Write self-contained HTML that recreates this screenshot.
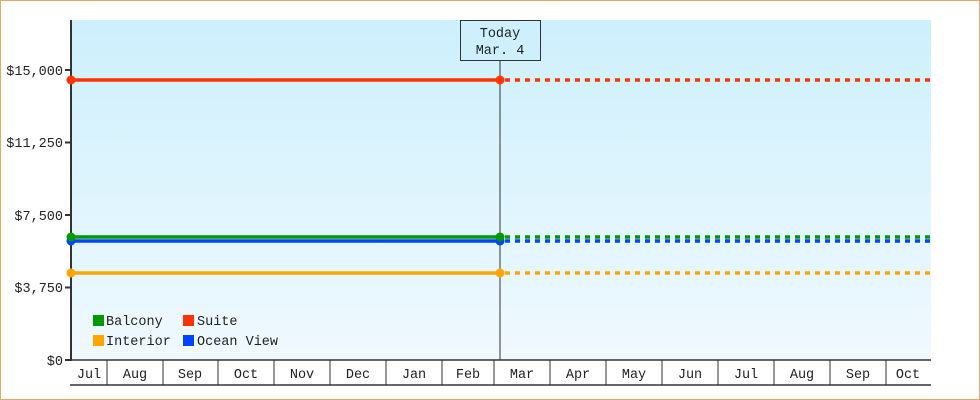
<!DOCTYPE html>
<html><head><meta charset="utf-8"><style>
html,body{margin:0;padding:0;background:#fff}
svg{display:block}
text{font-family:"Liberation Mono","DejaVu Sans Mono",monospace;font-size:13.5px;fill:#222}
</style></head><body>
<svg width="980" height="400" viewBox="0 0 980 400" xmlns="http://www.w3.org/2000/svg">
<defs><linearGradient id="g" x1="0" y1="0" x2="0" y2="1"><stop offset="0" stop-color="#cdf0fc"/><stop offset="1" stop-color="#f0f9fe"/></linearGradient></defs>
<rect x="0.5" y="0.5" width="979" height="399" fill="#fff" stroke="#e8a860"/>
<rect x="71" y="20" width="860" height="340" fill="url(#g)"/>
<line x1="71" y1="20" x2="71" y2="361" stroke="#333" stroke-width="2"/>
<g stroke="#333" stroke-width="2">
<line x1="65" y1="70" x2="71" y2="70"/><line x1="65" y1="142.5" x2="71" y2="142.5"/><line x1="65" y1="215" x2="71" y2="215"/><line x1="65" y1="287.5" x2="71" y2="287.5"/><line x1="65" y1="360" x2="71" y2="360"/>
</g>
<g text-anchor="end">
<text x="63" y="75">$15,000</text><text x="63" y="147">$11,250</text><text x="63" y="220">$7,500</text><text x="63" y="292">$3,750</text><text x="63" y="365">$0</text>
</g>
<line x1="70" y1="360" x2="931" y2="360" stroke="#333" stroke-width="1.5"/>
<line x1="70" y1="385" x2="931" y2="385" stroke="#333" stroke-width="1.5"/>
<g stroke="#333" stroke-width="1">
<line x1="107" y1="360" x2="107" y2="385"/><line x1="163" y1="360" x2="163" y2="385"/><line x1="218" y1="360" x2="218" y2="385"/><line x1="274" y1="360" x2="274" y2="385"/><line x1="330" y1="360" x2="330" y2="385"/><line x1="386" y1="360" x2="386" y2="385"/><line x1="442" y1="360" x2="442" y2="385"/><line x1="494" y1="360" x2="494" y2="385"/><line x1="550" y1="360" x2="550" y2="385"/><line x1="606" y1="360" x2="606" y2="385"/><line x1="662" y1="360" x2="662" y2="385"/><line x1="718" y1="360" x2="718" y2="385"/><line x1="774" y1="360" x2="774" y2="385"/><line x1="830" y1="360" x2="830" y2="385"/><line x1="886" y1="360" x2="886" y2="385"/>
</g>
<g text-anchor="middle">
<text x="89" y="378">Jul</text><text x="135" y="378">Aug</text><text x="190" y="378">Sep</text><text x="246" y="378">Oct</text><text x="302" y="378">Nov</text><text x="358" y="378">Dec</text><text x="414" y="378">Jan</text><text x="468" y="378">Feb</text><text x="522" y="378">Mar</text><text x="578" y="378">Apr</text><text x="634" y="378">May</text><text x="690" y="378">Jun</text><text x="746" y="378">Jul</text><text x="802" y="378">Aug</text><text x="858" y="378">Sep</text><text x="908" y="378">Oct</text>
</g>
<line x1="500" y1="60" x2="500" y2="360" stroke="#333" stroke-width="1"/>
<rect x="460.5" y="20.5" width="80" height="40" fill="#cdf0fc" stroke="#333"/>
<text x="500" y="37" text-anchor="middle">Today</text>
<text x="500" y="54" text-anchor="middle">Mar. 4</text>
<g stroke-width="3.5">
<line x1="71" y1="80" x2="500" y2="80" stroke="#ff3300"/>
<line x1="500" y1="80" x2="931" y2="80" stroke="#ff3300" stroke-dasharray="5,5" stroke-dashoffset="-5"/>
<line x1="71" y1="237" x2="500" y2="237" stroke="#009900"/>
<line x1="500" y1="237" x2="931" y2="237" stroke="#009900" stroke-dasharray="5,5" stroke-dashoffset="-5"/>
<line x1="71" y1="241" x2="500" y2="241" stroke="#0044ff"/>
<line x1="500" y1="241" x2="931" y2="241" stroke="#0044ff" stroke-dasharray="5,5" stroke-dashoffset="-5"/>
<line x1="71" y1="273" x2="500" y2="273" stroke="#ffa500"/>
<line x1="500" y1="273" x2="931" y2="273" stroke="#ffa500" stroke-dasharray="5,5" stroke-dashoffset="-5"/>
</g>
<g>
<circle cx="71" cy="80" r="4.5" fill="#ff3300"/><circle cx="500" cy="80" r="4.5" fill="#ff3300"/>
<circle cx="71" cy="241" r="4.5" fill="#0044ff"/><circle cx="500" cy="241" r="4.5" fill="#0044ff"/>
<circle cx="71" cy="237" r="4.5" fill="#009900"/><circle cx="500" cy="237" r="4.5" fill="#009900"/>
<circle cx="71" cy="273" r="4.5" fill="#ffa500"/><circle cx="500" cy="273" r="4.5" fill="#ffa500"/>
</g>
<rect x="93" y="315" width="11" height="11" fill="#009900"/><text x="106" y="325">Balcony</text>
<rect x="183" y="315" width="11" height="11" fill="#ff3300"/><text x="197" y="325">Suite</text>
<rect x="93" y="335" width="11" height="11" fill="#ffa500"/><text x="106" y="345">Interior</text>
<rect x="183" y="335" width="11" height="11" fill="#0044ff"/><text x="197" y="345">Ocean View</text>
</svg>
</body></html>
